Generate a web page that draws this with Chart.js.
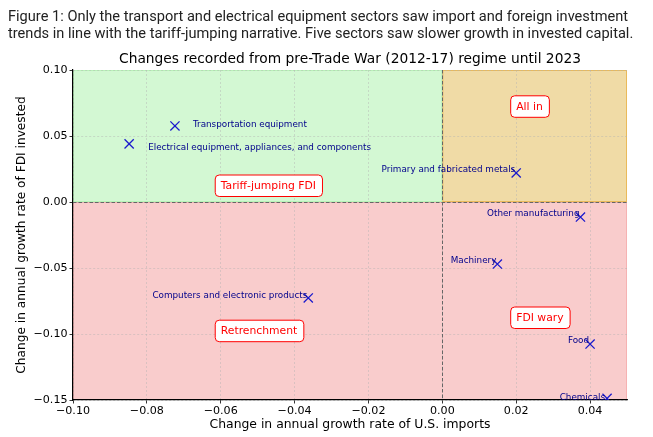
<!DOCTYPE html>
<html>
<head>
<meta charset="utf-8">
<script src="https://cdn.jsdelivr.net/npm/chart.js@4.4.1/dist/chart.umd.min.js"></script>
<style>
  html, body { margin: 0; padding: 0; background: #fff; }
  #wrap { position: relative; width: 653px; height: 437px; }
  #caption { position: absolute; left: 8px; top: 8px; font-family: Roboto, "Liberation Sans", sans-serif; font-size: 14.6px; line-height: 17px; color: #222; white-space: nowrap; z-index: 2; }
  canvas { position: absolute; left: 0; top: 0; }
</style>
</head>
<body>
<div id="wrap">
  <div id="caption">Figure 1: Only the transport and electrical equipment sectors saw import and foreign investment<br>trends in line with the tariff-jumping narrative. Five sectors saw slower growth in invested capital.</div>
  <canvas id="c" width="653" height="437"></canvas>
</div>
<script>
// ---- data ----
const sectors = [
  'Transportation equipment',
  'Electrical equipment, appliances, and components',
  'Primary and fabricated metals',
  'Other manufacturing',
  'Machinery',
  'Computers and electronic products',
  'Food',
  'Chemicals'
];
const importsChange = [-0.0724, -0.0848, 0.0200, 0.0374, 0.0149, -0.0363, 0.0400, 0.0446];
const fdiChange     = [0.0576, 0.0440, 0.0220, -0.0114, -0.0470, -0.0727, -0.1076, -0.1488];
const xTicks = [-0.10, -0.08, -0.06, -0.04, -0.02, 0.00, 0.02, 0.04];
const yTicks = [-0.15, -0.10, -0.05, 0.00, 0.05, 0.10];
const quadrantNames = ['Tariff-jumping FDI', 'All in', 'Retrenchment', 'FDI wary'];
const quadrantX = [-0.06, 0.02, -0.06, 0.02];
const quadrantY = [0.01, 0.07, -0.10, -0.09];
const chartTitle = 'Changes recorded from pre-Trade War (2012-17) regime until 2023';
const xLabel = 'Change in annual growth rate of U.S. imports';
const yLabel = 'Change in annual growth rate of FDI invested';

// label placement styling (alignment and pixel offsets relative to the marker)
const labelAlign = ['left', 'left', 'right', 'right', 'right', 'right', 'right', 'right'];
const labelDx = [18, 19, -1, -1, -1, -1, -1, -2];
const labelDy = [-1, 4, -3, -3, -3, -2, -3, -1];

const FONT = 'DejaVu Sans';
const fmt = v => {
  const r = Math.round(v * 100) / 100;
  return (r < 0 ? '\u2212' : '') + Math.abs(r).toFixed(2);
};

const backgroundPlugin = {
  id: 'quadrants',
  beforeDraw(chart) {
    const {ctx, scales: {x, y}} = chart;
    const px = v => x.getPixelForValue(v), py = v => y.getPixelForValue(v);
    const rects = [
      {x0: -0.10, x1: 0.00, y0: 0.00, y1: 0.10, fill: 'rgba(144,238,144,0.4)', edge: 'rgba(144,238,144,0.4)'},
      {x0: 0.00, x1: 0.05, y0: 0.00, y1: 0.10, fill: 'rgba(218,165,32,0.4)', edge: 'rgba(230,160,30,0.55)'},
      {x0: -0.10, x1: 0.05, y0: -0.15, y1: 0.00, fill: 'rgba(240,128,128,0.4)', edge: 'rgba(240,128,128,0.35)'}
    ];
    ctx.save();
    rects.forEach(r => {
      const l = px(r.x0), rr = px(r.x1), t = py(r.y1), b = py(r.y0);
      ctx.fillStyle = r.fill;
      ctx.fillRect(l, t, rr - l, b - t);
      ctx.strokeStyle = r.edge;
      ctx.lineWidth = 1;
      ctx.strokeRect(l + 0.5, t + 0.5, rr - l - 1, b - t - 1);
    });
    ctx.restore();
  },
  afterDatasetsDraw(chart) {
    const {ctx, scales: {x, y}, chartArea} = chart;
    ctx.save();
    // zero lines
    ctx.strokeStyle = '#666';
    ctx.lineWidth = 1;
    ctx.setLineDash([3.5, 2]);
    const x0 = Math.round(x.getPixelForValue(0)) + 0.5;
    const y0 = Math.round(y.getPixelForValue(0)) + 0.5;
    ctx.beginPath();
    ctx.moveTo(x0, chartArea.top); ctx.lineTo(x0, chartArea.bottom);
    ctx.moveTo(chartArea.left, y0); ctx.lineTo(chartArea.right, y0);
    ctx.stroke();
    ctx.setLineDash([]);
    // point labels
    ctx.font = '8.8px "' + FONT + '"';
    ctx.fillStyle = '#00008b';
    ctx.textBaseline = 'middle';
    sectors.forEach((s, i) => {
      ctx.textAlign = labelAlign[i];
      ctx.fillText(s, x.getPixelForValue(importsChange[i]) + labelDx[i], y.getPixelForValue(fdiChange[i]) + labelDy[i]);
    });
    // quadrant labels
    ctx.font = '10.8px "' + FONT + '"';
    ctx.textAlign = 'left';
    ctx.textBaseline = 'alphabetic';
    quadrantNames.forEach((q, i) => {
      const tx = x.getPixelForValue(quadrantX[i]);
      const ty = y.getPixelForValue(quadrantY[i]);
      const w = ctx.measureText(q).width;
      const bx = tx - 6, by = ty - 14.3, bw = w + 12, bh = 21.5;
      ctx.beginPath();
      ctx.roundRect(bx + 0.5, by + 0.5, bw, bh, 4);
      ctx.fillStyle = '#ffffff';
      ctx.fill();
      ctx.strokeStyle = '#ff0000';
      ctx.lineWidth = 1;
      ctx.stroke();
      ctx.fillStyle = '#ff0000';
      ctx.fillText(q, tx, ty);
    });
    // chart title
    ctx.font = '13.8px "' + FONT + '"';
    ctx.fillStyle = '#000';
    ctx.textAlign = 'center';
    ctx.textBaseline = 'alphabetic';
    ctx.fillText(chartTitle, (chartArea.left + chartArea.right) / 2, 63);
    ctx.restore();
  }
};

new Chart(document.getElementById('c'), {
  type: 'scatter',
  data: {
    datasets: [{
      data: importsChange.map((v, i) => ({x: v, y: fdiChange[i]})),
      pointStyle: 'crossRot',
      pointRadius: 6.5,
      pointHoverRadius: 6.5,
      borderColor: '#1a1acd',
      backgroundColor: '#1a1acd',
      borderWidth: 1.3,
      clip: 0
    }]
  },
  options: {
    responsive: false,
    animation: false,
    events: [],
    layout: {padding: {top: 70, right: 26, left: 0, bottom: 0}},
    plugins: {legend: {display: false}, tooltip: {enabled: false}, title: {display: false}},
    scales: {
      x: {
        type: 'linear', min: -0.10, max: 0.05,
        afterBuildTicks: s => { s.ticks = xTicks.map(v => ({value: v})); },
        afterFit: s => { s.height = 37; },
        ticks: {callback: v => fmt(v), color: '#000', font: {family: FONT, size: 11.1}, padding: 1, maxRotation: 0, autoSkip: false},
        grid: {color: 'rgba(176,176,176,0.55)', lineWidth: 0.8, tickColor: '#000', tickLength: 3.5, tickWidth: 0.8},
        border: {color: '#000', width: 1.2, dash: [2, 2]},
        title: {display: true, text: xLabel, color: '#000', font: {family: FONT, size: 12.4}, padding: {top: 0, bottom: 5}}
      },
      y: {
        type: 'linear', min: -0.15, max: 0.10,
        afterBuildTicks: s => { s.ticks = yTicks.map(v => ({value: v})); },
        afterFit: s => { s.width = 73; },
        ticks: {callback: v => fmt(v), color: '#000', font: {family: FONT, size: 11.1}, padding: 2, autoSkip: false},
        grid: {color: 'rgba(176,176,176,0.55)', lineWidth: 0.8, tickColor: '#000', tickLength: 3.5, tickWidth: 0.8},
        border: {color: '#000', width: 1.2, dash: [2, 2]},
        title: {display: true, text: yLabel, color: '#000', font: {family: FONT, size: 12.2}, padding: {top: 15, bottom: 0}}
      }
    }
  },
  plugins: [backgroundPlugin]
});
</script>
</body>
</html>
